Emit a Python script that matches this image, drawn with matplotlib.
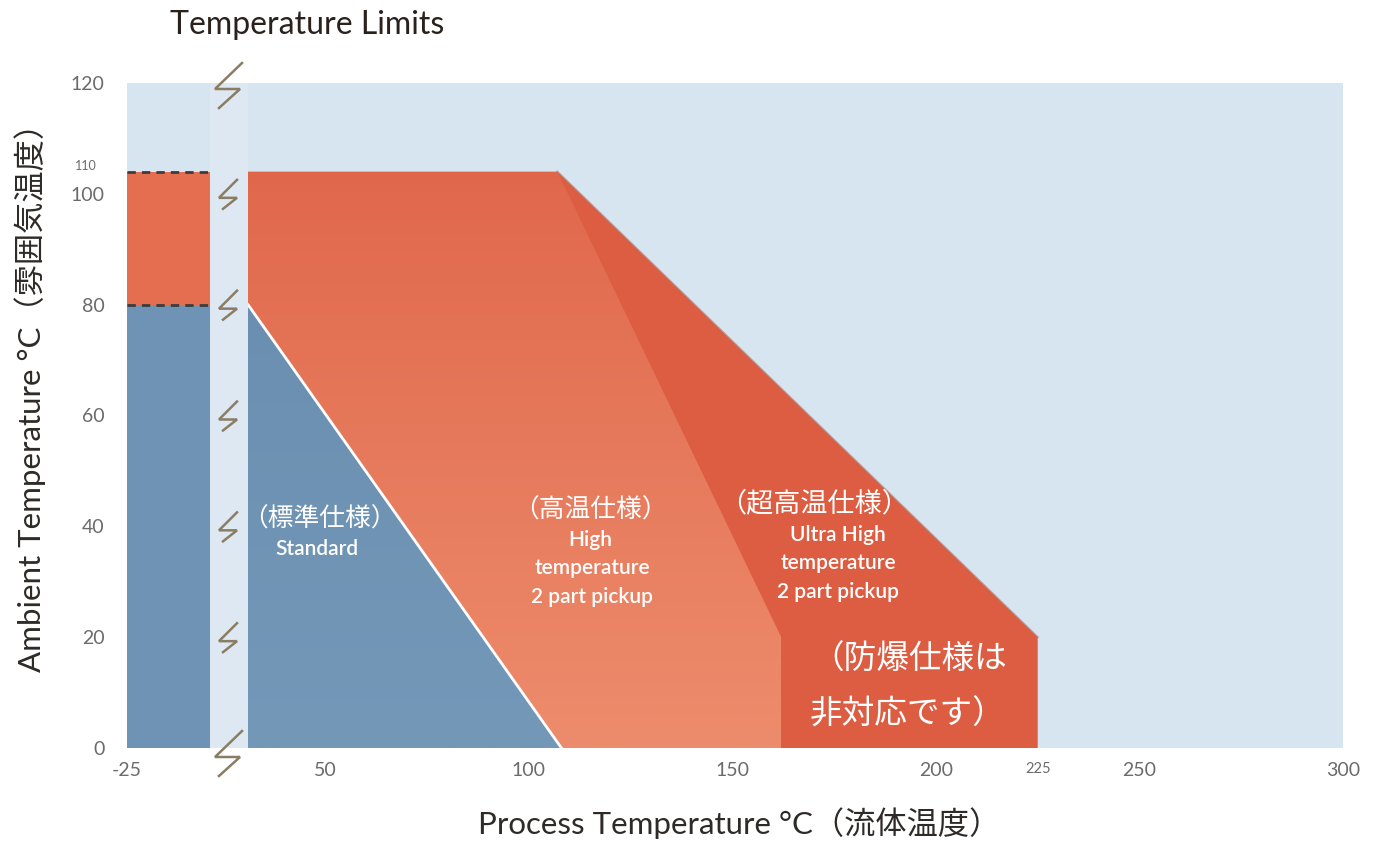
import numpy as np
import matplotlib
matplotlib.use('Agg')
import matplotlib.pyplot as plt
from matplotlib.colors import LinearSegmentedColormap
from matplotlib.patches import Polygon
from matplotlib import transforms

plt.rcParams['font.family'] = ['Lato', 'Noto Sans CJK JP', 'DejaVu Sans']

# data
y_ticks = [0, 20, 40, 60, 80, 100, 120]
x_ticks = [50, 100, 150, 200, 225, 250, 300]
x_tick_labels = ['50', '100', '150', '200', '225', '250', '300']

standard_x = [31, 31, 108]
standard_y = [0, 80, 0]
high_x = [31, 31, 107, 162, 162]
high_y = [0, 110, 110, 20, 0]
ultra_x = [31, 31, 107, 225, 225]
ultra_y = [0, 110, 110, 20, 0]

low_limit_left = 80     # -25 column: standard up to 80
high_limit_left = 110   # high temp up to 110

BG = '#d7e5f0'
GAP_BG = '#dde8f3'
BLUE = '#6f93b4'
ORANGE_L = '#e46e4f'
ULTRA = '#dc5d42'
BRK = '#8b7d63'
TICK_C = '#6b6b6b'

W, H = 1379, 843
fig = plt.figure(figsize=(W / 100, H / 100), dpi=100)
fig.patch.set_facecolor('white')


# the 110 mark sits close above 100 in the drawing
def fwd(y):
    y = np.asarray(y, float)
    return np.where(y <= 100, y, np.where(y <= 110, 100 + (y - 100) * 0.4, 104 + (y - 110) * 1.6))


def inv(v):
    v = np.asarray(v, float)
    return np.where(v <= 100, v, np.where(v <= 104, 100 + (v - 100) / 0.4, 110 + (v - 104) / 1.6))


bottom = (H - 748) / H
height = 665 / H
ax_l = fig.add_axes([127 / W, bottom, 83 / W, height])
ax_g = fig.add_axes([210 / W, bottom, 38 / W, height])
ax_m = fig.add_axes([248 / W, bottom, 1095 / W, height])

for ax in (ax_l, ax_g, ax_m):
    ax.set_yscale('function', functions=(fwd, inv))
    ax.set_ylim(0, 120)
    for s in ax.spines.values():
        s.set_visible(False)
    ax.tick_params(length=0, colors=TICK_C, labelsize=14)
ax_l.set_facecolor(BG)
ax_g.set_facecolor(GAP_BG)
ax_m.set_facecolor(BG)

# left column (-25)
ax_l.set_xlim(-25, -5)
ax_l.fill_between([-25, -5], 0, low_limit_left, color=BLUE, lw=0)
ax_l.fill_between([-25, -5], low_limit_left, high_limit_left, color=ORANGE_L, lw=0)
for lv in (low_limit_left, high_limit_left):
    ax_l.plot([-25, -5], [lv, lv], color='#3c3c3c', lw=2, ls=(0, (3, 2.2)))
ax_l.set_xticks([-25])
ax_l.set_xticklabels(['-25'])
ax_l.set_yticks(y_ticks)
ax_l.set_yticklabels([str(v) for v in y_ticks])
ax_l.tick_params(axis='y', pad=16)
ax_l.tick_params(axis='x', pad=10)
tr = transforms.blended_transform_factory(fig.transFigure, ax_l.transData)
ax_l.text(75 / W, high_limit_left, '110', transform=tr, ha='left', va='bottom',
          fontsize=9, color=TICK_C)

# gap column
ax_g.set_xlim(0, 1)
ax_g.set_xticks([])
ax_g.set_yticks([])

# main area
ax_m.set_xlim(31, 300)
ultra = Polygon(np.column_stack([ultra_x, ultra_y]), closed=True, fc=ULTRA, ec='none', zorder=1)
ax_m.add_patch(ultra)
ax_m.plot(ultra_x[2:4], ultra_y[2:4], color='#b97062', lw=1.5, alpha=0.6, zorder=1.5)
high = Polygon(np.column_stack([high_x, high_y]), closed=True, fc='none', ec='none', zorder=2)
ax_m.add_patch(high)
cmap = LinearSegmentedColormap.from_list('hi', ['#ed8c6c', '#e6795b', '#e0664a'])
grad = np.linspace(0, 1, 256).reshape(-1, 1)
im = ax_m.imshow(grad, extent=(31, 162, 0, 110), origin='lower', aspect='auto',
                 cmap=cmap, zorder=2, interpolation='bilinear')
im.set_clip_path(high)
std_cmap = LinearSegmentedColormap.from_list('st', ['#7398b8', '#6a8fb0'])
std = Polygon(np.column_stack([standard_x, standard_y]), closed=True, fc='none', ec='none', zorder=3)
ax_m.add_patch(std)
im2 = ax_m.imshow(grad, extent=(31, 108, 0, 80), origin='lower', aspect='auto',
                  cmap=std_cmap, zorder=3, interpolation='bilinear')
im2.set_clip_path(std)
ax_m.plot(standard_x[1:], standard_y[1:], color='white', lw=2, zorder=4)
ax_m.set_xlim(31, 300)
ax_m.set_ylim(0, 120)
ax_m.set_xticks(x_ticks)
ax_m.set_xticklabels(x_tick_labels)
ax_m.tick_params(axis='x', pad=10)
for lab, v in zip(ax_m.get_xticklabels(), x_ticks):
    if v == 225:
        lab.set_fontsize(10.5)
ax_m.set_yticks([])

# labels inside the areas
wt = dict(color='white', ha='center', va='center', zorder=6)
en = dict(fontsize=15, fontweight='semibold')
ax_m.text(48.5, 41.3, '（標準仕様）', fontsize=18.5, **wt)
ax_m.text(48, 35.9, 'Standard', **en, **wt)
ax_m.text(115, 43, '（高温仕様）', fontsize=18.5, **wt)
ax_m.text(115, 37.6, 'High', **en, **wt)
ax_m.text(115.5, 32.4, 'temperature', **en, **wt)
ax_m.text(115.5, 27.3, '2 part pickup', **en, **wt)
ax_m.text(170, 44.2, '（超高温仕様）', fontsize=19.5, **wt)
ax_m.text(176, 38.4, 'Ultra High', **en, **wt)
ax_m.text(176, 33.3, 'temperature', **en, **wt)
ax_m.text(176, 28.2, '2 part pickup', **en, **wt)
ax_m.text(193.5, 16, '（防爆仕様は', fontsize=23.5, **wt)
ax_m.text(193, 6.1, '非対応です）', fontsize=23.5, **wt)

# break marks in the gap column
fig.canvas.draw()
small = np.array([[8, -14], [-10, 4], [8, 4], [-6, 15]], float)
big = np.array([[13, -22], [-14, 4], [11, 4], [-10, 23]], float)
for v in y_ticks:
    cx, cy = ax_g.transData.transform((0.5, v))
    shape = big if v in (0, 120) else small
    dy = 5 if v == 0 else (2 if v == 120 else 0)
    xs = cx + shape[:, 0]
    ys = cy - shape[:, 1] - dy
    fig.add_artist(plt.Line2D(xs, ys, transform=None, color=BRK, lw=1.8,
                              solid_joinstyle='miter', clip_on=False, zorder=10))

fig.text(170 / W, 1 - 25 / H, 'Temperature Limits', ha='left', va='center',
         fontsize=23, color='#2b211c')
fig.text(739 / W, 1 - 823 / H, 'Process Temperature °C（流体温度）', ha='center',
         va='center', fontsize=22.5, color='#2e2a28')
fig.text(30 / W, 1 - 390 / H, 'Ambient Temperature °C（雰囲気温度）', ha='center',
         va='center', rotation=90, fontsize=22.5, color='#2e2a28')

fig.savefig('out.png', dpi=100, facecolor='white')
